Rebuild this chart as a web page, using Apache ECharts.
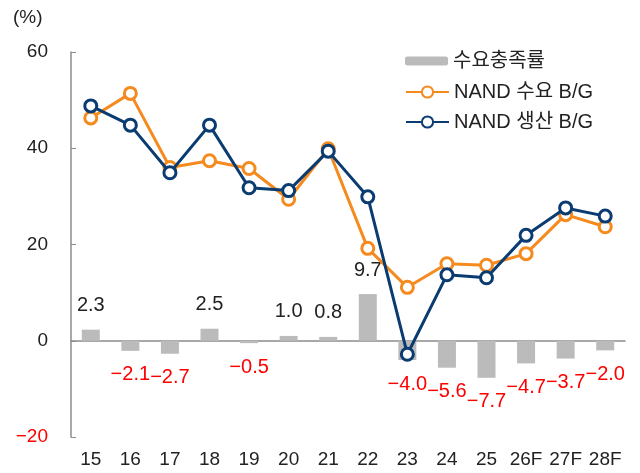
<!DOCTYPE html>
<html>
<head>
    <meta charset="utf-8">
    <title>NAND 수급</title>
    <script src="https://cdn.jsdelivr.net/npm/echarts@6/dist/echarts.min.js"></script>
    <style>
        html, body { margin: 0; padding: 0; background: #fff; }
        #main { width: 640px; height: 473px; }
    </style>
</head>
<body>
<div id="main"></div>
<script type="text/javascript">
    // 연도
    var years = ['15', '16', '17', '18', '19', '20', '21', '22', '23', '24', '25', '26F', '27F', '28F'];
    // 수요충족률 (%)
    var fillRate = [2.3, -2.1, -2.7, 2.5, -0.5, 1.0, 0.8, 9.7, -4.0, -5.6, -7.7, -4.7, -3.7, -2.0];
    // NAND 수요 B/G
    var demandBG = [46.3, 51.4, 36.0, 37.4, 35.8, 29.4, 39.9, 19.2, 11.1, 16.0, 15.7, 18.1, 26.2, 23.7];
    // NAND 생산 B/G
    var supplyBG = [48.8, 44.8, 34.9, 44.8, 31.8, 31.2, 39.4, 29.9, -2.8, 13.7, 13.1, 21.9, 27.6, 25.9];

    var font = '"Liberation Sans", "Noto Sans CJK KR", sans-serif';
    var orange = '#F58A1F';
    var navy = '#0B3C71';

    function fmt(v) {
        return v < 0 ? '\u2212' + Math.abs(v).toFixed(1) : v.toFixed(1);
    }

    var myChart = echarts.init(document.getElementById('main'));

    var option = {
        animation: false,
        textStyle: { fontFamily: font },
        title: {
            text: '(%)',
            left: 8, top: 3,
            textStyle: { fontSize: 19, fontWeight: 'normal', color: '#222', fontFamily: font }
        },
        grid: { left: 71, right: 15, top: 52, bottom: 36, containLabel: false },
        legend: [
            {
                data: ['수요충족률'],
                left: 400, top: 46,
                itemWidth: 43, itemHeight: 9,
                textStyle: { fontSize: 20, color: '#222', fontFamily: font }
            },
            {
                data: ['NAND 수요 B/G', 'NAND 생산 B/G'],
                orient: 'vertical',
                left: 400, top: 77,
                itemGap: 10,
                itemWidth: 43, itemHeight: 14,
                textStyle: { fontSize: 20, color: '#222', fontFamily: font }
            }
        ],
        xAxis: [
            {
                type: 'category',
                data: years,
                axisLine: { onZero: true, lineStyle: { color: '#8c8c8c', width: 1.5 } },
                axisTick: { inside: true, length: 5, lineStyle: { color: '#8c8c8c' } },
                axisLabel: { show: false }
            },
            {
                type: 'category',
                data: years,
                position: 'bottom',
                axisLine: { show: false },
                axisTick: { show: false },
                axisLabel: { fontSize: 19, color: '#222', margin: 13, interval: 0 }
            }
        ],
        yAxis: {
            type: 'value',
            min: -20, max: 60, interval: 20,
            splitLine: { show: false },
            axisLine: { show: true, lineStyle: { color: '#8c8c8c', width: 1.5 } },
            axisTick: { show: true, inside: true, length: 5, lineStyle: { color: '#8c8c8c' } },
            axisLabel: {
                fontSize: 19, margin: 23,
                color: function (v) { return v < 0 ? '#ff0000' : '#222'; },
                formatter: function (v) { return v < 0 ? '\u2212' + Math.abs(v) : v; }
            }
        },
        series: [
            {
                name: '수요충족률',
                type: 'bar',
                barWidth: 18,
                itemStyle: { color: '#BBBBBB' },
                data: fillRate.map(function (v) {
                    return {
                        value: v,
                        label: {
                            show: true,
                            position: v < 0 ? 'bottom' : 'top',
                            distance: 14,
                            fontSize: 20,
                            color: v < 0 ? '#ff0000' : '#222',
                            formatter: function (p) { return fmt(p.value); }
                        }
                    };
                }),
                z: 1
            },
            {
                name: 'NAND 수요 B/G',
                type: 'line',
                data: demandBG,
                symbol: 'circle',
                symbolSize: 12,
                lineStyle: { color: orange, width: 3 },
                itemStyle: { color: '#fff', borderColor: orange, borderWidth: 3 },
                z: 3
            },
            {
                name: 'NAND 생산 B/G',
                type: 'line',
                data: supplyBG,
                symbol: 'circle',
                symbolSize: 12,
                lineStyle: { color: navy, width: 3 },
                itemStyle: { color: '#fff', borderColor: navy, borderWidth: 3 },
                z: 4
            }
        ]
    };

    myChart.setOption(option);
</script>
</body>
</html>
